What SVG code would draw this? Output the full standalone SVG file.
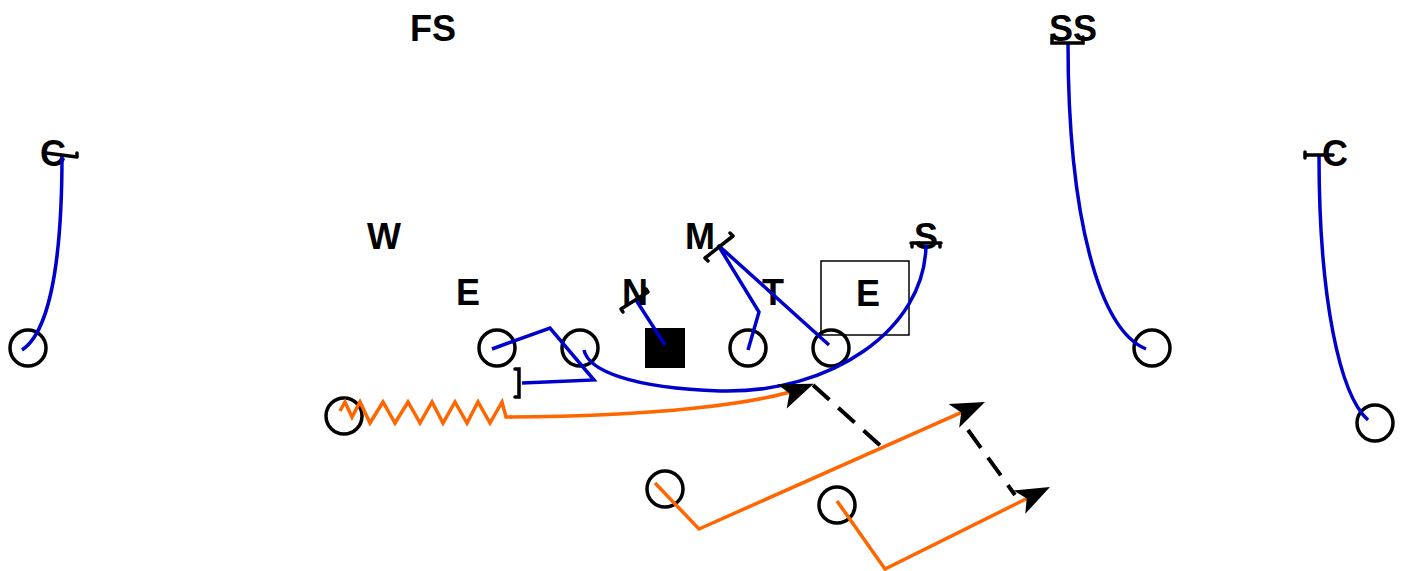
<svg xmlns="http://www.w3.org/2000/svg" width="1407" height="571" viewBox="0 0 1407 571">
<style>
.lbl{font-family:"Liberation Sans",Arial,sans-serif;font-weight:bold;font-size:36px;fill:#000;text-anchor:middle}
.pl{fill:none;stroke:#000;stroke-width:3.5}
.blue{fill:none;stroke:#0000cc;stroke-width:3.5;stroke-linejoin:miter}
.orange{fill:none;stroke:#ff6600;stroke-width:3.5;stroke-linejoin:miter}
.blk{fill:none;stroke:#000;stroke-width:3.5;stroke-linecap:round}
.dash{fill:none;stroke:#000;stroke-width:4;stroke-dasharray:22 12}
</style>
<defs>
<marker id="arr" viewBox="-30 -14 38 28" refX="0" refY="0" markerWidth="38" markerHeight="28" markerUnits="userSpaceOnUse" orient="auto">
<path d="M6,0 L-28,-13 L-20,0 L-28,13 Z" fill="#000"/>
</marker>
</defs>
<rect width="1407" height="571" fill="#fff"/>

<g id="defense">
<g id="FS"><text class="lbl" x="433" y="41">FS</text></g>
<g id="SS"><text class="lbl" x="1073" y="41">SS</text></g>
<g id="CL"><text class="lbl" x="53" y="166">C</text></g>
<g id="CR"><text class="lbl" x="1335" y="166">C</text></g>
<g id="W"><text class="lbl" x="384" y="249">W</text></g>
<g id="M"><text class="lbl" x="700" y="249">M</text></g>
<g id="S"><text class="lbl" x="926" y="249">S</text></g>
<g id="EL"><text class="lbl" x="468" y="305">E</text></g>
<g id="N"><text class="lbl" x="635" y="305">N</text></g>
<g id="T"><text class="lbl" x="773" y="305">T</text></g>
<g id="ER"><rect x="821" y="261" width="88" height="74" fill="none" stroke="#000" stroke-width="1.5"/><text class="lbl" x="868" y="306">E</text></g>
</g>

<g id="offense">
<g id="o1"><circle class="pl" cx="28" cy="348" r="18"/></g>
<g id="o2"><circle class="pl" cx="497" cy="348" r="18"/></g>
<g id="o3"><circle class="pl" cx="580" cy="348" r="18"/></g>
<g id="center"><rect x="645" y="328" width="40" height="40" fill="#000"/></g>
<g id="o4"><circle class="pl" cx="748" cy="348" r="18"/></g>
<g id="o5"><circle class="pl" cx="831" cy="348" r="18"/></g>
<g id="o6"><circle class="pl" cx="1152" cy="348" r="18"/></g>
<g id="o7"><circle class="pl" cx="1375" cy="423" r="18"/></g>
<g id="o8"><circle class="pl" cx="344" cy="416" r="18"/></g>
<g id="o9"><circle class="pl" cx="665" cy="489" r="18"/></g>
<g id="o10"><circle class="pl" cx="837" cy="505" r="18"/></g>
</g>

<g id="connectors">
<path class="blue" d="M22,350 C45,335 62,280 62,155"/>
<path class="blk" d="M46,153 L77,157 M77,157 L77,153"/>

<path class="blue" d="M1068,42 C1068,220 1100,330 1146,349"/>
<path class="blk" d="M1052,37 L1052,43 L1083,43 L1083,37"/>

<path class="blue" d="M1319,155 C1319,300 1340,395 1368,420"/>
<path class="blk" d="M1305,155 L1333,155 M1305,152 L1305,158"/>

<path class="blue" d="M492,349 L550,328 L594,380 L522,383"/>
<path class="blk" d="M515,369 L519,369 L519,397 L515,397"/>

<path class="blue" d="M665,345 L636,300"/>
<path class="blk" d="M621,309 L648,292 M621,309 L623,312 M648,292 L646,289"/>

<path class="blue" d="M748,350 L759,312 L718,245 L829,345"/>
<path class="blk" d="M705,258 L733,236 M705,258 L708,261 M733,236 L730,233"/>

<path class="blue" d="M584,350 C588,370 630,388 720,391 C830,394 925,330 926,245"/>
<path class="blk" d="M911,243 L941,243 M912,243 L912,247 M940,243 L940,247"/>

<path class="orange" d="M340,411 L345,402 L352,417 L360,402 L370,423 L383,402 L395,423 L408,402 L420,423 L432,402 L443,423 L455,402 L467,423 L478,402 L490,423 L502,402 L506,417 L512,417"/>
<path class="orange" d="M510,417 C650,416 760,405 808,386" marker-end="url(#arr)"/>
<path class="orange" d="M655,483 L699,529 L979.5,404.4" marker-end="url(#arr)"/>
<path class="orange" d="M837,501 L885,569 L1044.6,489.7" marker-end="url(#arr)"/>

<path class="dash" d="M813,385 L883,448"/>
<path class="dash" d="M968,430 L1015,495"/>
</g>
</svg>
